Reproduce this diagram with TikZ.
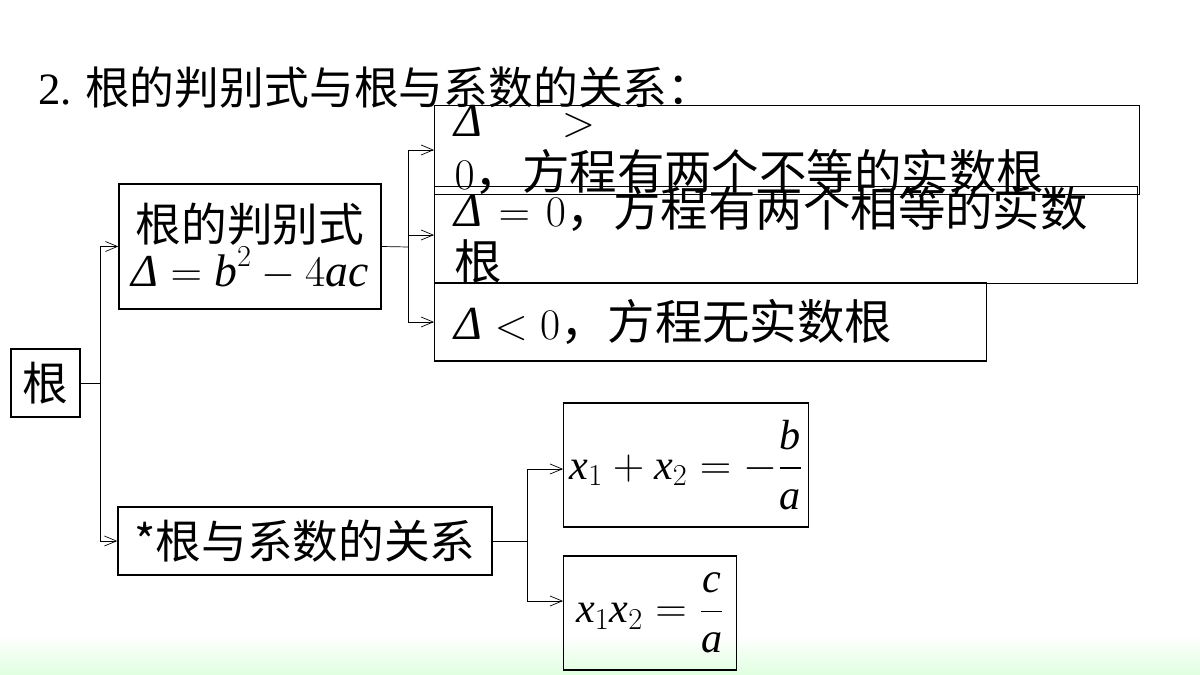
\documentclass[tikz,border=0pt]{standalone}
\usepackage{amsmath}
\usepackage{fontspec}
\setmainfont{Liberation Serif}
\newfontfamily\cjk{Noto Sans CJK SC}
\usetikzlibrary{arrows.meta,positioning}

\newcommand{\vi}[1]{\text{\itshape #1}}
\newcommand{\dlt}{\text{\itshape Δ}}

\tikzset{
  box/.style={draw, thick, inner sep=0pt, font=\cjk\fontsize{26}{30}\selectfont, align=center},
  row/.style={box, anchor=west, align=left, inner xsep=0.4cm, font=\cjk\fontsize{27}{30}\selectfont},
  link/.style={thin, -{Straight Barb[length=2.4mm, width=2mm]}}
}

\begin{document}
\begin{tikzpicture}[x=0.02cm, y=-0.02cm]
  \useasboundingbox (0,0) rectangle (1200,675);
  % bottom band
  \shade[top color=white, bottom color=green!12!white] (0,635) rectangle (1200,675);

  % title
  \node[anchor=west, font=\cjk\fontsize{25.5}{30}\selectfont] (title) at (32,88) {{\rmfamily 2.} 根的判别式与根与系数的关系：};

  % boxes
  \node[box, minimum width=69*0.02cm, minimum height=68*0.02cm] (root) at (45.5,383) {根};
  \node[box, minimum width=262*0.02cm, minimum height=125*0.02cm] (disc) at (250,246.5)
    {根的判别式\\[-4pt] {\rmfamily$\dlt=\vi{b}^{2}-4\vi{a}\vi{c}$}};
  \node[row, minimum width=705*0.02cm, minimum height=74*0.02cm, text width=665*0.02cm] (pos) at (434,150)
    {{\rmfamily$\dlt>0$}，方程有两个不等的实数根};
  \node[row, minimum width=703*0.02cm, minimum height=74*0.02cm, text width=663*0.02cm] (zero) at (434,235)
    {{\rmfamily$\dlt=0$}，方程有两个相等的实数 根};
  \node[row, minimum width=552*0.02cm, minimum height=78*0.02cm, text width=512*0.02cm] (neg) at (434,322)
    {{\rmfamily$\dlt<0$}，方程无实数根};
  \node[box, minimum width=374*0.02cm, minimum height=68*0.02cm] (vieta) at (305,541) {*根与系数的关系};
  \node[box, anchor=west, minimum width=245*0.02cm, minimum height=124*0.02cm] (sum) at (563,465)
    {\rmfamily\fontsize{24}{28}\selectfont $\vi{x}_1+\vi{x}_2=-\dfrac{\vi{b}}{\vi{a}}$};
  \node[box, anchor=west, minimum width=173*0.02cm, minimum height=114*0.02cm] (prod) at (563,613)
    {\rmfamily\fontsize{24}{28}\selectfont $\vi{x}_1\vi{x}_2=\dfrac{\vi{c}}{\vi{a}}$};

  % branch points
  \coordinate (j1) at (100,383);
  \coordinate (j2) at (408,247);
  \coordinate (j3) at (527,541);

  % connectors
  \draw[thin] (root.east) -- (j1);
  \draw[link] (j1) |- (disc.west);
  \draw[link] (j1) |- (vieta.west);
  \draw[thin] (disc.east) -- (j2);
  \draw[link] (j2) |- (pos.west);
  \draw[link] (j2) |- (zero.west);
  \draw[link] (j2) |- (neg.west);
  \draw[thin] (vieta.east) -- (j3);
  \draw[link] (j3) |- ([yshift=-4*0.02cm]sum.west);
  \draw[link] (j3) |- ([yshift=12*0.02cm]prod.west);
\end{tikzpicture}
\end{document}
